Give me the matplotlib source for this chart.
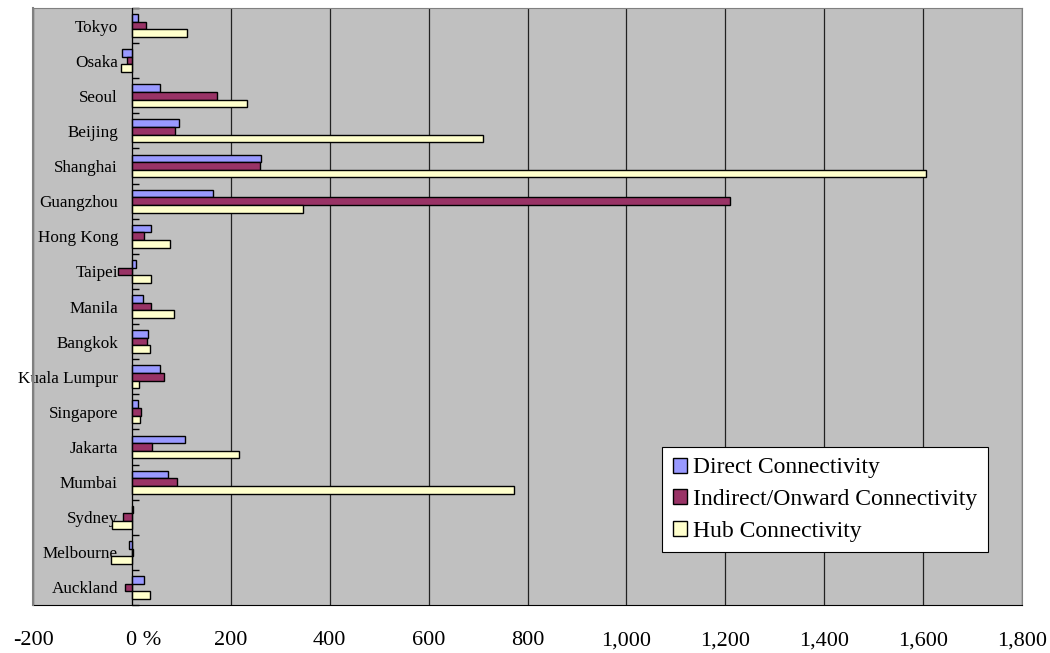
import numpy as np
import matplotlib
matplotlib.use('Agg')
import matplotlib.pyplot as plt
from matplotlib.transforms import ScaledTranslation

plt.rcParams['font.family'] = ['Liberation Serif', 'DejaVu Serif']

cities = ['Tokyo', 'Osaka', 'Seoul', 'Beijing', 'Shanghai', 'Guangzhou',
          'Hong Kong', 'Taipei', 'Manila', 'Bangkok', 'Kuala Lumpur',
          'Singapore', 'Jakarta', 'Mumbai', 'Sydney', 'Melbourne', 'Auckland']
direct = [12, -20, 57, 95, 261, 163, 38, 9, 23, 33, 56, 13, 107, 73, 3, -5, 24]
indirect = [28, -9, 173, 87, 259, 1209, 24, -28, 38, 30, 64, 18, 41, 91, -18, 3, -14]
hub = [111, -22, 232, 709, 1606, 346, 77, 38, 85, 36, 15, 17, 216, 773, -40, -42, 36]
xticks = list(range(-200, 1801, 200))
xlabels = ['-200', '0 %'] + ['{:,}'.format(v) for v in xticks[2:]]

fig = plt.figure(figsize=(10.5, 6.53), dpi=100)
ax = fig.add_axes([33/1050, 48/653, 989/1050, 597/653])
ax.set_facecolor('#c0c0c0')

y = np.arange(len(cities))
h = 0.217
ax.barh(y - h, direct, height=h, color='#9999ff', edgecolor='black', linewidth=1.0,
        label='Direct Connectivity', zorder=3)
ax.barh(y, indirect, height=h, color='#993366', edgecolor='black', linewidth=1.0,
        label='Indirect/Onward Connectivity', zorder=3)
ax.barh(y + h, hub, height=h, color='#ffffcc', edgecolor='black', linewidth=1.0,
        label='Hub Connectivity', zorder=3)

ax.set_xlim(-200, 1800)
ax.set_ylim(len(cities) - 0.5, -0.5)

# vertical gridlines
ax.set_xticks(xticks)
ax.set_xticklabels(xlabels, fontsize=16)
ax.xaxis.grid(True, color='#222222', linewidth=0.9, zorder=1)
ax.set_axisbelow(True)
ax.tick_params(axis='x', length=0, pad=19)

# the 0 % label sits with its digit under the tick
for lbl in ax.get_xticklabels():
    if lbl.get_text() == '0 %':
        lbl.set_horizontalalignment('left')
        lbl.set_transform(lbl.get_transform() + ScaledTranslation(-5.5/100, 0, fig.dpi_scale_trans))

# category axis at zero
ax.spines['left'].set_position(('data', 0))
ax.spines['left'].set_color('black')
ax.spines['left'].set_zorder(4)
ax.set_yticks(y)
ax.set_yticklabels(cities, fontsize=12.3)
ax.set_yticks(np.arange(-0.5, len(cities)), minor=True)
ax.tick_params(axis='y', which='major', length=0, pad=10)
ax.tick_params(axis='y', which='minor', direction='in', length=5, width=1, color='black')

for s in ['top', 'right']:
    ax.spines[s].set_color('#808080')
ax.spines['bottom'].set_color('black')
ax.axvline(-200, color='#808080', linewidth=1.5, clip_on=False, zorder=5)

leg = ax.legend(loc='upper left', bbox_to_anchor=(0.636, 0.265), borderaxespad=0,
                fontsize=17, frameon=True, fancybox=False, shadow=False,
                handlelength=0.6, handleheight=0.6, handletextpad=0.25,
                labelspacing=0.45, borderpad=0.45)
leg.get_frame().set_edgecolor('black')
leg.get_frame().set_linewidth(0.8)
leg.get_frame().set_alpha(1)

fig.savefig('out.png', dpi=100)
